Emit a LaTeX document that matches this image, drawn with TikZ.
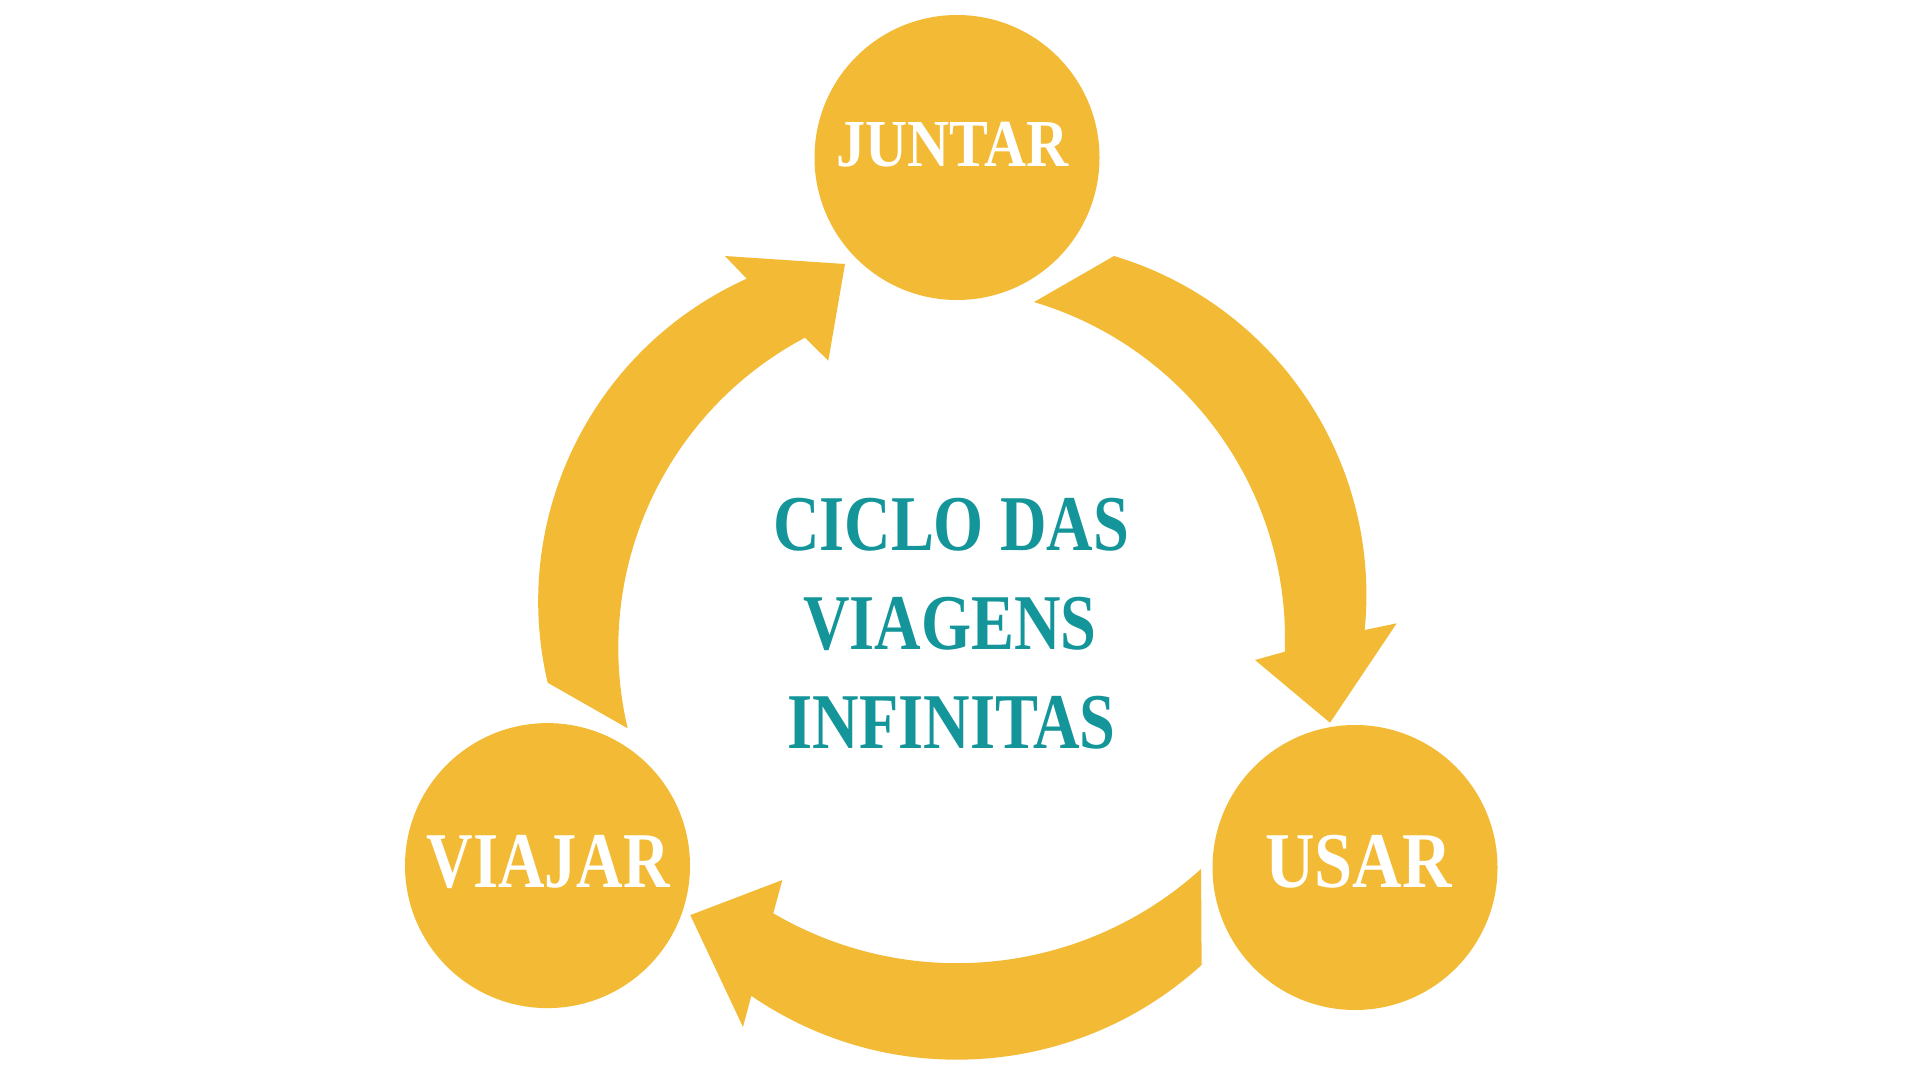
\documentclass[tikz,border=0pt]{standalone}
\usepackage{fontspec}
\setmainfont{Liberation Serif}
\newfontfamily\dispA{Liberation Serif}[FakeStretch=0.815]
\newfontfamily\dispB{Liberation Serif}[FakeStretch=0.867]
\usetikzlibrary{calc}
\definecolor{gold}{HTML}{F3BB35}
\definecolor{tealtxt}{HTML}{14959A}
\tikzset{
  disc/.style={circle, fill=gold, draw=none, minimum size=285pt, inner sep=0pt},
  arrowshape/.style={fill=gold, draw=none},
  lbl/.style={text=white, anchor=base, inner sep=0pt, font=\dispA\bfseries\fontsize{79}{84}\selectfont},
  lblsmall/.style={text=white, anchor=base, inner sep=0pt, font=\dispB\bfseries\fontsize{67.2}{72}\selectfont},
  lblwide/.style={text=white, anchor=base, inner sep=0pt, font=\dispB\bfseries\fontsize{79}{84}\selectfont},
  ttl/.style={text=tealtxt, anchor=base, inner sep=0pt, font=\dispA\bfseries\fontsize{79}{84}\selectfont}
}
\begin{document}
\begin{tikzpicture}[x=1pt,y=-1pt]
\useasboundingbox (0,0) rectangle (1920,1080);
\fill[white] (0,0) rectangle (1920,1080);

% arc centres of the three curved arrows
\coordinate (cLo) at (892.2,601.4);
\coordinate (cLi) at (969.3,647.8);
\coordinate (cRo) at (1012.4,595.1);
\coordinate (cRi) at (934,638.5);
\coordinate (cBo) at (957,696.7);
\coordinate (cBi) at (957,600.2);

% circles
\node[disc] (juntar) at (957,157.5) {};
\node[disc] (viajar) at (547.5,865.6) {};
\node[disc] (usar) at (1355,867.5) {};

% left arrow: VIAJAR -> JUNTAR
\fill[arrowshape] ($(cLo)+(166.72:354)$) arc[start angle=166.72, end angle=245.73, radius=354]
  -- (725,256) -- (845,264) -- (828.3,360.7)
  -- ($(cLi)+(242.08:351)$) arc[start angle=242.08, end angle=166.74, radius=351] -- cycle;

% right arrow: JUNTAR -> USAR
\fill[arrowshape] ($(cRo)+(-73.32:354)$) arc[start angle=-73.32, end angle=5.66, radius=354]
  -- (1396.7,623.3) -- (1330,722.7) -- (1255,660)
  -- ($(cRi)+(2.16:351)$) arc[start angle=2.16, end angle=-73.45, radius=351] -- cycle;

% bottom arrow: USAR -> VIAJAR
\fill[arrowshape] ($(cBo)+(47.63:363)$) arc[start angle=47.63, end angle=124.52, radius=363]
  -- (743,1027) -- (690.3,915.1) -- (782.3,880)
  -- ($(cBi)+(120.4:363)$) arc[start angle=120.4, end angle=47.75, radius=363] -- cycle;

% labels
\node[lblsmall] (tjuntar) at (952.5,166.7) {JUNTAR};
\node[lbl] (tviajar) at (548.3,887.7) {VIAJAR};
\node[lblwide] (tusar) at (1358.3,887.7) {USAR};

% title
\node[ttl] (title1) at (951,550) {CICLO DAS};
\node[ttl] (title2) at (950,649) {VIAGENS};
\node[ttl] (title3) at (951.7,748.3) {INFINITAS};
\end{tikzpicture}
\end{document}
